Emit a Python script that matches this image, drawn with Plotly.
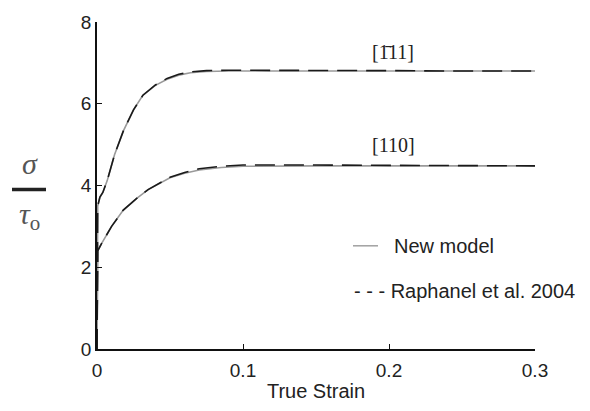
import plotly.graph_objects as go

# ---- data ----
strain_111 = [0, 0.0005, 0.002, 0.004, 0.007, 0.012, 0.018, 0.025, 0.0315, 0.04, 0.048, 0.056, 0.064, 0.075, 0.09, 0.11, 0.15, 0.2, 0.25, 0.3]
new_111 = [0, 3.5, 3.72, 3.83, 4.12, 4.75, 5.33, 5.85, 6.21, 6.45, 6.6, 6.7, 6.76, 6.79, 6.8, 6.8, 6.8, 6.8, 6.8, 6.8]
raph_111 = [0, 3.5, 3.72, 3.83, 4.12, 4.75, 5.33, 5.85, 6.21, 6.46, 6.62, 6.72, 6.78, 6.81, 6.82, 6.82, 6.82, 6.81, 6.8, 6.8]

strain_110 = [0, 0.0005, 0.003, 0.01, 0.018, 0.027, 0.035, 0.05, 0.06, 0.07, 0.085, 0.1, 0.15, 0.2, 0.25, 0.3]
new_110 = [0, 2.4, 2.57, 3.0, 3.40, 3.68, 3.90, 4.19, 4.3, 4.38, 4.44, 4.47, 4.48, 4.48, 4.48, 4.48]
raph_110 = [0, 2.4, 2.57, 3.0, 3.40, 3.68, 3.90, 4.2, 4.32, 4.41, 4.47, 4.5, 4.5, 4.49, 4.48, 4.48]

x_ticks = [0, 0.1, 0.2, 0.3]
x_tick_labels = ["0", "0.1", "0.2", "0.3"]
y_ticks = [0, 2, 4, 6, 8]
y_tick_labels = ["0", "2", "4", "6", "8"]

fig = go.Figure()
for xs, ys in [(strain_111, new_111), (strain_110, new_110)]:
    fig.add_trace(go.Scatter(x=xs, y=ys, mode="lines",
                             line=dict(color="#9a9a9a", width=1.6), showlegend=False))
for xs, ys in [(strain_111, raph_111), (strain_110, raph_110)]:
    fig.add_trace(go.Scatter(x=xs, y=ys, mode="lines",
                             line=dict(color="#1a1a1a", width=1.6, dash="20px,9px"), showlegend=False))

font = dict(family="Liberation Sans, Arial, sans-serif", size=20, color="#222")

fig.update_layout(
    width=590, height=411,
    margin=dict(l=97, r=55, t=15, b=60),
    paper_bgcolor="white", plot_bgcolor="white",
    font=font,
    showlegend=False,
    xaxis=dict(range=[0, 0.3], tickvals=x_ticks, ticktext=x_tick_labels,
               showline=True, linecolor="#111", linewidth=1.5, mirror=False,
               ticks="inside", ticklen=5, tickwidth=1.2, tickcolor="#111",
               showgrid=False, zeroline=False, tickfont=dict(size=19),
               ticklabelstandoff=3,
               title=dict(text="True Strain", font=dict(size=20), standoff=4)),
    yaxis=dict(range=[0, 8], tickvals=y_ticks, ticktext=y_tick_labels,
               showline=True, linecolor="#111", linewidth=1.5, mirror=False,
               ticks="inside", ticklen=5, tickwidth=1.2, tickcolor="#111",
               showgrid=False, zeroline=False, tickfont=dict(size=19)),
)

serif = dict(family="Liberation Serif, DejaVu Serif, serif", size=20, color="#222")
fig.add_annotation(x=0.203, y=7.27, xref="x", yref="y", text="[1\u030411]",
                   showarrow=False, font=serif)
fig.add_annotation(x=0.203, y=4.98, xref="x", yref="y", text="[110]",
                   showarrow=False, font=serif)

# legend drawn as text + a short line sample
fig.add_shape(type="line", xref="paper", yref="paper",
              x0=(353 - 97) / 438, x1=(378 - 97) / 438,
              y0=(351 - 245) / 336, y1=(351 - 245) / 336,
              line=dict(color="#888", width=1.2))
fig.add_annotation(xref="paper", yref="paper", x=(392 - 97) / 438, y=(351 - 245) / 336,
                   xanchor="left", yanchor="middle", text="New model",
                   showarrow=False, font=font)
fig.add_annotation(xref="paper", yref="paper", x=(352 - 97) / 438, y=(351 - 291) / 336,
                   xanchor="left", yanchor="middle",
                   text="- - - Raphanel et al. 2004",
                   showarrow=False, font=font)

# y-axis label: sigma over tau_o
sym = dict(family="Liberation Serif, DejaVu Serif, serif", size=30, color="#555")
fig.add_annotation(xref="paper", yref="paper", x=(30 - 97) / 438, y=(351 - 160) / 336,
                   text="<i>\u03c3</i>", showarrow=False, font=sym,
                   xanchor="center", yanchor="middle")
fig.add_annotation(xref="paper", yref="paper", x=(29 - 97) / 438, y=(351 - 214) / 336,
                   text="<i>\u03c4</i><sub>o</sub>", showarrow=False, font=sym,
                   xanchor="center", yanchor="middle")
fig.add_shape(type="line", xref="paper", yref="paper",
              x0=(12 - 97) / 438, x1=(46 - 97) / 438,
              y0=(351 - 187) / 336, y1=(351 - 187) / 336,
              line=dict(color="#222", width=3.5))

fig.write_html("out.html")
